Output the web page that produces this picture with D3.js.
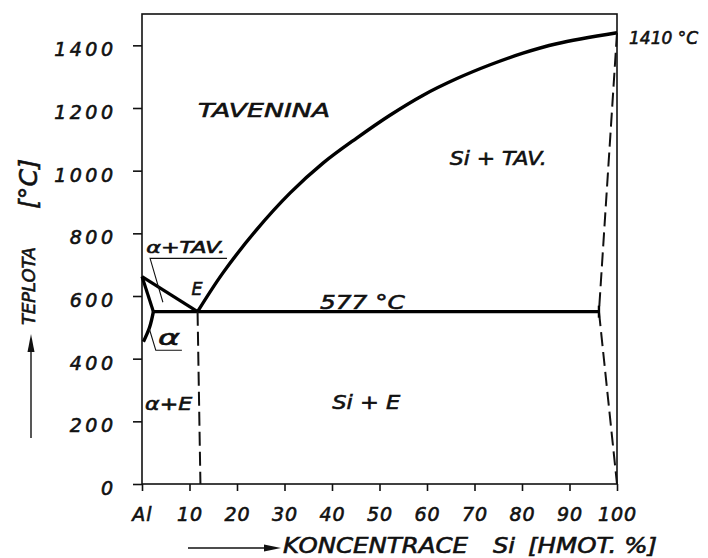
<!DOCTYPE html>
<html>
<head>
<meta charset="utf-8">
<script src="https://cdn.jsdelivr.net/npm/d3@7"></script>
<style>
  body { margin: 0; background: #fff; }
  text { font-family: "DejaVu Sans", sans-serif; font-style: italic; font-weight: normal;
         fill: #111; stroke: #111; stroke-width: 0.6px; }
</style>
</head>
<body>
<script>
// Ticks
const xTicks = [0, 10, 20, 30, 40, 50, 60, 70, 80, 90, 100];
const xTickLabels = ["Al", "10", "20", "30", "40", "50", "60", "70", "80", "90", "100"];
const yTicks = [0, 200, 400, 600, 800, 1000, 1200, 1400];

// Phase boundaries [wt.% Si, temperature]
const liquidusSi = [[11.7, 550], [17.0, 673], [24.1, 811], [31.2, 929], [38.1, 1024], [45.2, 1104],
    [52.2, 1177], [59.2, 1241], [66.3, 1294], [73.3, 1338], [80.2, 1375], [87.3, 1405], [100, 1440]];
const liquidusAl = [[0, 662], [11.7, 550]];
const solidusAl = [[0, 662], [2.4, 550]];
const solvusAl = [[2.4, 550], [1.6, 500], [0.3, 454]];
const eutectic = [[2.4, 550], [96.2, 550]];
const eutecticDrop = [[11.7, 550], [12.3, 0]];
const siBoundary = [[100, 1440], [96.2, 550], [100, 0]];

const width = 708, height = 558;
const margin = { top: 14, right: 91, bottom: 74, left: 142 };

const svg = d3.select("body").append("svg")
    .attr("width", width)
    .attr("height", height);

const x = d3.scaleLinear().domain([0, 100]).range([margin.left, width - margin.right]);
const y = d3.scaleLinear().domain([0, 1500]).range([height - margin.bottom, margin.top]);

// frame
svg.append("rect")
    .attr("x", x(0)).attr("y", y(1500))
    .attr("width", x(100) - x(0)).attr("height", y(0) - y(1500))
    .attr("fill", "none").attr("stroke", "#111").attr("stroke-width", 1.6);

// axes
const yAxis = svg.append("g")
    .attr("transform", `translate(${x(0)},0)`)
    .call(d3.axisLeft(y).tickValues(yTicks).tickSize(9).tickPadding(16.5).tickFormat(d3.format("d")));
yAxis.select(".domain").remove();
yAxis.selectAll("line").attr("stroke", "#111").attr("stroke-width", 1.6);
yAxis.selectAll("text")
    .attr("dy", "0.55em")
    .style("font-size", "19px")
    .style("letter-spacing", "3.5px")
    .style("font-family", "DejaVu Sans");

const xAxis = svg.append("g")
    .attr("transform", `translate(0,${y(0)})`)
    .call(d3.axisBottom(x).tickValues(xTicks).tickSize(7).tickPadding(17)
        .tickFormat((d, i) => xTickLabels[i]));
xAxis.select(".domain").remove();
xAxis.selectAll("line").attr("stroke", "#111").attr("stroke-width", 1.6);
xAxis.selectAll("text")
    .style("font-size", "19px")
    .style("letter-spacing", "1px")
    .style("font-family", "DejaVu Sans");

// phase lines
const line = d3.line().x(d => x(d[0])).y(d => y(d[1]));

svg.append("path")
    .attr("d", line.curve(d3.curveCatmullRom)(liquidusSi))
    .attr("fill", "none").attr("stroke", "#000").attr("stroke-width", 3.4);

line.curve(d3.curveLinear);
[liquidusAl, solidusAl, eutectic].forEach(pts => {
    svg.append("path")
        .attr("d", line(pts))
        .attr("fill", "none").attr("stroke", "#000").attr("stroke-width", 3.2);
});

svg.append("path")
    .attr("d", line.curve(d3.curveNatural)(solvusAl))
    .attr("fill", "none").attr("stroke", "#000").attr("stroke-width", 3.4);

line.curve(d3.curveLinear);
[eutecticDrop, siBoundary].forEach(pts => {
    svg.append("path")
        .attr("d", line(pts))
        .attr("fill", "none").attr("stroke", "#111").attr("stroke-width", 2)
        .attr("stroke-dasharray", "14,6");
});

// small end bar of the eutectic line
svg.append("line")
    .attr("x1", x(96.2)).attr("x2", x(96.2))
    .attr("y1", y(550) - 6).attr("y2", y(550) + 6)
    .attr("stroke", "#000").attr("stroke-width", 2.4);

// leader lines for the alpha labels
const leader = d3.line().x(d => x(d[0])).y(d => y(d[1]));
svg.append("path")
    .attr("d", leader([[17.9, 720], [1.7, 720], [4.4, 580]]))
    .attr("fill", "none").attr("stroke", "#111").attr("stroke-width", 1.1);
svg.append("path")
    .attr("d", leader([[1.5, 497], [2.9, 427], [8.4, 427]]))
    .attr("fill", "none").attr("stroke", "#111").attr("stroke-width", 1.1);

// region labels, placed in data units
const labels = [
    { t: "TAVENINA", x: 25.7, y: 1171, size: 20, len: 132 },
    { t: "Si + TAV.", x: 75.0, y: 1018, size: 20, len: 97 },
    { t: "577 °C", x: 46.4, y: 558, size: 20, len: 85 },
    { t: "Si + E", x: 47.2, y: 239, size: 20, len: 68 },
    { t: "E", x: 11.6, y: 603, size: 18, len: 11 },
    { t: "α+TAV.", x: 9.2, y: 737, size: 15, len: 79 },
    { t: "α", x: 5.7, y: 444, size: 22, len: 22 },
    { t: "α+E", x: 5.6, y: 236, size: 18, len: 47 }
];

svg.selectAll(".region")
    .data(labels)
    .enter()
    .append("text")
    .attr("class", "region")
    .attr("x", d => x(d.x))
    .attr("y", d => y(d.y))
    .attr("text-anchor", "middle")
    .attr("textLength", d => d.len)
    .attr("lengthAdjust", "spacingAndGlyphs")
    .style("font-size", d => d.size + "px")
    .text(d => d.t);

// melting point of Si
svg.append("text")
    .attr("x", x(100) + 12).attr("y", y(1440) + 11)
    .style("font-size", "17px")
    .text("1410 °C");

// x axis title with arrow
svg.append("line")
    .attr("x1", 188).attr("x2", 268).attr("y1", 548).attr("y2", 548)
    .attr("stroke", "#111").attr("stroke-width", 1.4);
svg.append("path")
    .attr("d", "M281,548 L264,544.5 L264,551.5 Z")
    .attr("fill", "#111");
svg.append("text").attr("x", 283).attr("y", 553)
    .attr("textLength", 185).attr("lengthAdjust", "spacingAndGlyphs")
    .style("font-size", "21px").text("KONCENTRACE");
svg.append("text").attr("x", 493).attr("y", 553)
    .attr("textLength", 22).attr("lengthAdjust", "spacingAndGlyphs")
    .style("font-size", "21px").text("Si");
svg.append("text").attr("x", 528).attr("y", 553)
    .attr("textLength", 129).attr("lengthAdjust", "spacingAndGlyphs")
    .style("font-size", "21px").text("[HMOT. %]");

// y axis title with arrow
svg.append("line")
    .attr("x1", 31).attr("x2", 31).attr("y1", 438).attr("y2", 348)
    .attr("stroke", "#111").attr("stroke-width", 1.4);
svg.append("path")
    .attr("d", "M31,334 L27.5,352 L34.5,352 Z")
    .attr("fill", "#111");
svg.append("text")
    .attr("transform", "translate(35,325) rotate(-90)")
    .attr("textLength", 78).attr("lengthAdjust", "spacingAndGlyphs")
    .style("font-size", "18px").text("TEPLOTA");
svg.append("text")
    .attr("transform", "translate(37,209) rotate(-90)")
    .attr("textLength", 50).attr("lengthAdjust", "spacingAndGlyphs")
    .style("font-size", "25px").text("[°C]");
</script>
</body>
</html>
